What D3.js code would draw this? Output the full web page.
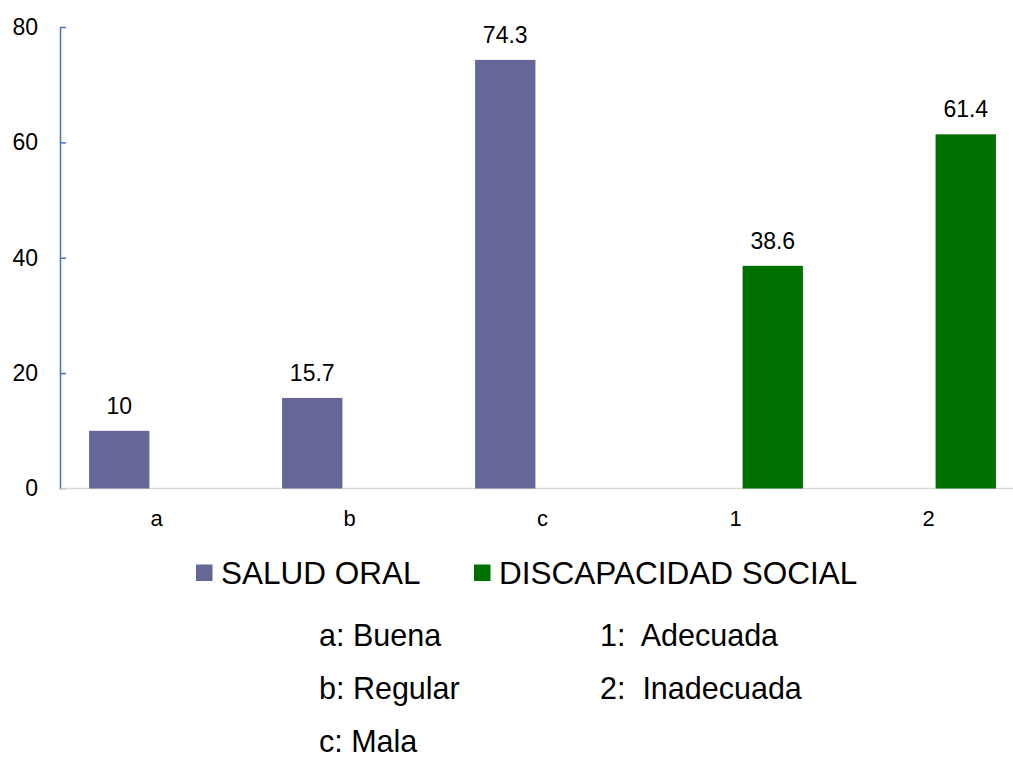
<!DOCTYPE html>
<html>
<head>
<meta charset="utf-8">
<script src="https://cdn.jsdelivr.net/npm/d3@7"></script>
<style>
  html, body { margin: 0; padding: 0; background: #ffffff; }
  svg { display: block; font-family: Arial, "Liberation Sans", sans-serif; }
</style>
</head>
<body>
<svg id="chart" width="1013" height="758"></svg>
<script>
// Categories on the x axis and the two series
const categories = ["a", "b", "c", "1", "2"];
const seriesNames = ["SALUD ORAL", "DISCAPACIDAD SOCIAL"];
const saludOral = [10, 15.7, 74.3, null, null];
const discapacidadSocial = [null, null, null, 38.6, 61.4];
const yTicks = [0, 20, 40, 60, 80];
const notesLeft = ["a: Buena", "b: Regular", "c: Mala"];
const notesRight = ["1:\u00A0 Adecuada", "2:\u00A0 Inadecuada"];
const seriesColors = ["#666699", "#007000"];

const seriesValues = [saludOral, discapacidadSocial];

const svg = d3.select("#chart");

const x0 = d3.scaleBand().domain(categories).range([60, 1025]).padding(0);
const x1 = d3.scaleBand().domain(seriesNames)
  .range([0, x0.bandwidth()])
  .paddingInner(0.19).paddingOuter(0.39);
const y = d3.scaleLinear().domain([0, 80]).range([488.5, 27]);

// Horizontal baseline (category axis)
svg.append("line")
  .attr("x1", 59).attr("x2", 1013)
  .attr("y1", y(0)).attr("y2", y(0))
  .attr("stroke", "#d9d9d9").attr("stroke-width", 1.5);

// Value axis with inward ticks
const yAxis = svg.append("g")
  .attr("transform", "translate(60,0)")
  .call(d3.axisLeft(y).tickValues(yTicks).tickSize(-6).tickSizeOuter(0).tickPadding(22));
yAxis.select(".domain").attr("stroke", "#4472C4").attr("stroke-width", 1.5);
yAxis.selectAll(".tick line").attr("stroke", "#4472C4").attr("stroke-width", 1.5);
yAxis.selectAll(".tick").filter(d => d === 0).select("line").attr("stroke", "#c8ccd8");
yAxis.selectAll(".tick text")
  .attr("fill", "#000").attr("font-size", 23).attr("font-family", "Arial, 'Liberation Sans', sans-serif");

// Category labels
const xAxis = svg.append("g")
  .attr("transform", `translate(0,${y(0)})`)
  .call(d3.axisBottom(x0).tickSize(0).tickPadding(22));
xAxis.select(".domain").remove();
xAxis.selectAll(".tick text")
  .attr("fill", "#000").attr("font-size", 22).attr("font-family", "Arial, 'Liberation Sans', sans-serif");

// Bars and value labels
seriesNames.forEach((name, si) => {
  const rows = categories
    .map((c, i) => ({ cat: c, value: seriesValues[si][i] }))
    .filter(d => d.value !== null);
  const g = svg.append("g");
  g.selectAll("rect").data(rows).join("rect")
    .attr("x", d => x0(d.cat) + x1(name))
    .attr("width", x1.bandwidth())
    .attr("y", d => y(d.value))
    .attr("height", d => y(0) - y(d.value))
    .attr("fill", seriesColors[si]);
  g.selectAll("text").data(rows).join("text")
    .attr("x", d => x0(d.cat) + x1(name) + x1.bandwidth() / 2)
    .attr("y", d => y(d.value) - 17)
    .attr("text-anchor", "middle")
    .attr("font-size", 23)
    .attr("fill", "#000")
    .text(d => String(d.value));
});

// Legend
const legendItems = [
  { name: seriesNames[0], color: seriesColors[0], x: 196 },
  { name: seriesNames[1], color: seriesColors[1], x: 474 }
];
const legend = svg.append("g");
legendItems.forEach(it => {
  legend.append("rect")
    .attr("x", it.x).attr("y", 564.5).attr("width", 16.5).attr("height", 16.5)
    .attr("fill", it.color);
  legend.append("text")
    .attr("x", it.x + 25).attr("y", 583.5)
    .attr("font-size", 31.5).attr("fill", "#000")
    .text(it.name);
});

// Category key notes
const notes = svg.append("g").attr("font-size", 30.5).attr("fill", "#000");
notes.selectAll("text.left").data(notesLeft).join("text")
  .attr("class", "left")
  .attr("x", 319).attr("y", (d, i) => 645.5 + i * 53)
  .text(d => d);
notes.selectAll("text.right").data(notesRight).join("text")
  .attr("class", "right")
  .attr("x", 600).attr("y", (d, i) => 645.5 + i * 53)
  .text(d => d);
</script>
</body>
</html>
